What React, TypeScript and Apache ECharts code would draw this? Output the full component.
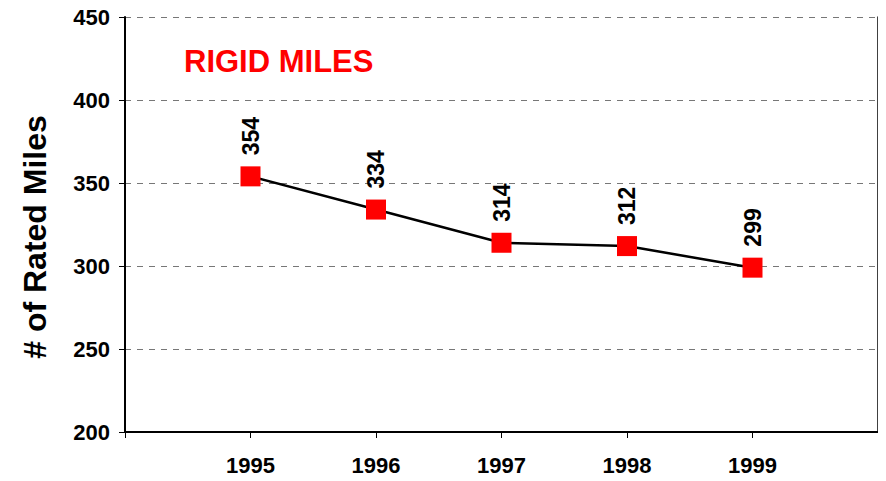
import React, { useEffect, useRef } from "react";
import * as echarts from "echarts";

const categories = ["", "1995", "1996", "1997", "1998", "1999", ""];
const rigidMiles: (number | null)[] = [null, 354, 334, 314, 312, 299, null];
const yTicks = { min: 200, max: 450, interval: 50 };
const chartTitle = "RIGID MILES";
const yTitle = "# of Rated Miles";

export default function App() {
  const ref = useRef<HTMLDivElement>(null);
  useEffect(() => {
    if (!ref.current) return;
    const chart = echarts.init(ref.current, undefined, { renderer: "svg" });
    const font = "'Liberation Sans', Arial, sans-serif";
    chart.setOption({
      animation: false,
      backgroundColor: "#ffffff",
      grid: { left: 125, right: 8, top: 17, bottom: 49 },
      graphic: [
        {
          type: "text",
          left: 184,
          top: 46,
          style: {
            text: chartTitle,
            fill: "#ff0000",
            font: `bold 31px ${font}`,
          },
        },
        {
          type: "text",
          x: 35,
          y: 237,
          rotation: Math.PI / 2,
          style: {
            text: yTitle,
            fill: "#000000",
            font: `bold 32px ${font}`,
            align: "center",
            verticalAlign: "middle",
          },
        },
      ],
      xAxis: {
        type: "category",
        data: categories,
        boundaryGap: false,
        axisLine: { show: true, lineStyle: { color: "#000", width: 2 } },
        axisTick: { show: true, length: 6, lineStyle: { color: "#000", width: 1 } },
        axisLabel: {
          color: "#000",
          fontFamily: font,
          fontWeight: "bold",
          fontSize: 22,
          margin: 22,
        },
        splitLine: { show: false },
      },
      yAxis: [
        {
          type: "value",
          min: yTicks.min,
          max: yTicks.max,
          interval: yTicks.interval,
          axisLine: { show: true, lineStyle: { color: "#000", width: 2 } },
          axisTick: { show: true, length: 6, lineStyle: { color: "#000", width: 1 } },
          axisLabel: {
            color: "#000",
            fontFamily: font,
            fontWeight: "bold",
            fontSize: 22,
            margin: 15,
          },
          splitLine: {
            show: true,
            lineStyle: { color: "#777777", type: [6, 6], width: 1.2 },
          },
        },
        {
          type: "value",
          position: "right",
          min: yTicks.min,
          max: yTicks.max,
          interval: yTicks.interval,
          axisLine: { show: true, lineStyle: { color: "#000", width: 1.5 } },
          axisTick: { show: false },
          axisLabel: { show: false },
          splitLine: { show: false },
        },
      ],
      series: [
        {
          type: "line",
          data: rigidMiles,
          yAxisIndex: 0,
          lineStyle: { color: "#000", width: 2.5 },
          symbol: "rect",
          symbolSize: 20,
          itemStyle: { color: "#ff0000" },
          label: {
            show: true,
            position: "top",
            rotate: 90,
            align: "left",
            verticalAlign: "middle",
            distance: 11,
            color: "#000",
            fontFamily: font,
            fontWeight: "bold",
            fontSize: 23,
          },
        },
      ],
    });
    return () => chart.dispose();
  }, []);
  return <div ref={ref} style={{ width: 886, height: 481, margin: -8 }} />;
}
